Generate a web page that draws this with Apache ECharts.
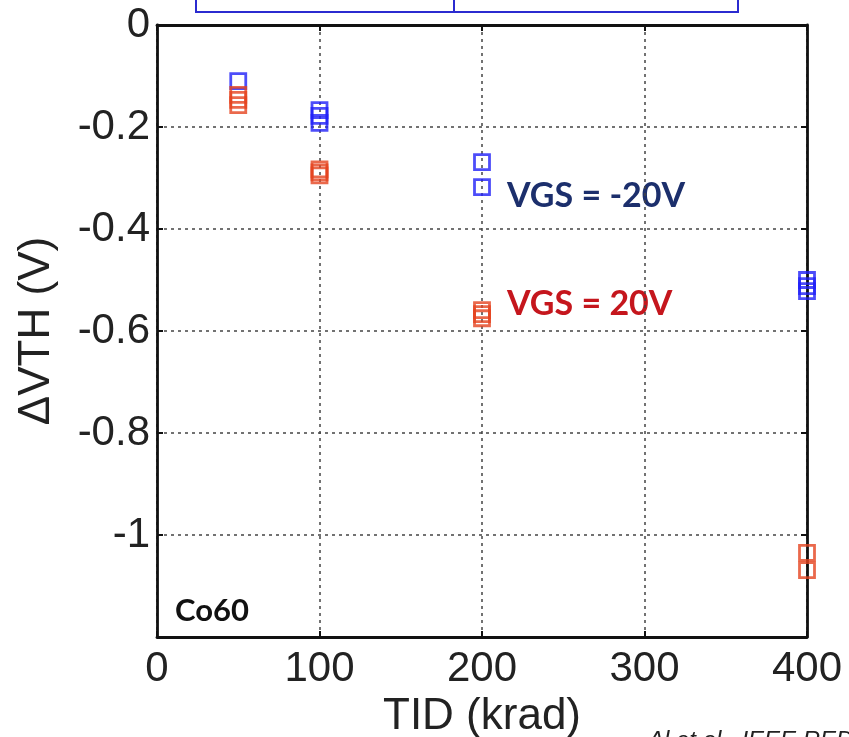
<!DOCTYPE html>
<html>
<head>
<meta charset="utf-8">
<script src="https://cdn.jsdelivr.net/npm/echarts@6/dist/echarts.min.js"></script>
<style>html,body{margin:0;padding:0;background:#fff;}#c{width:849px;height:737px;}</style>
</head>
<body>
<div id="c"></div>
<script>
// Data
var xTicks = [0, 100, 200, 300, 400];
var yTicks = [0, -0.2, -0.4, -0.6, -0.8, -1];
var tidBlue  = [50, 100, 100, 100, 200, 200, 400, 400, 400];
var dvthBlue = [-0.11, -0.167, -0.178, -0.192, -0.269, -0.318, -0.500, -0.512, -0.522];
var tidRed   = [50, 50, 50, 100, 100, 100, 200, 200, 200, 400, 400];
var dvthRed  = [-0.137, -0.147, -0.157, -0.283, -0.289, -0.295, -0.559, -0.567, -0.575, -1.035, -1.069];
var labelBlue = 'VGS = -20V';
var labelRed = 'VGS = 20V';

function pairs(xs, ys) { return xs.map(function (x, i) { return [x, ys[i]]; }); }

var chart = echarts.init(document.getElementById('c'), null, {renderer: 'canvas'});
var font = '"Liberation Sans", Arial, sans-serif';
var gridLine = {show: true, lineStyle: {color: '#444', type: [3, 4], width: 1.5}};
chart.setOption({
  animation: false,
  backgroundColor: '#fff',
  grid: {left: 157, right: 42, top: 25, bottom: 100, show: false, outerBoundsMode: 'none', containLabel: false},
  xAxis: [{
    type: 'value', min: 0, max: 400, interval: 100, position: 'bottom',
    name: 'TID (krad)', nameLocation: 'middle', nameGap: 56,
    nameTextStyle: {fontFamily: font, fontSize: 44, color: '#222'},
    axisLine: {show: true, onZero: false, lineStyle: {color: '#111', width: 2.8}},
    axisTick: {show: true, inside: true, length: 6, lineStyle: {color: '#111', width: 2}},
    axisLabel: {fontFamily: font, fontSize: 42, color: '#222', margin: 11,
      formatter: function (v) { return xTicks.indexOf(v) >= 0 ? String(v) : ''; }},
    splitLine: gridLine
  }, {
    type: 'value', min: 0, max: 400, interval: 100, position: 'top',
    axisLine: {show: true, onZero: false, lineStyle: {color: '#111', width: 2.8}},
    axisTick: {show: true, inside: true, length: 6, lineStyle: {color: '#111', width: 2}},
    axisLabel: {show: false}, splitLine: {show: false}
  }],
  yAxis: [{
    type: 'value', min: -1.2, max: 0, interval: 0.2, position: 'left',
    name: '\u0394VTH (V)', nameLocation: 'middle', nameGap: 98,
    nameTextStyle: {fontFamily: font, fontSize: 44, color: '#222'},
    axisLine: {show: true, onZero: false, lineStyle: {color: '#111', width: 2.8}},
    axisTick: {show: true, inside: true, length: 6, lineStyle: {color: '#111', width: 2}},
    axisLabel: {fontFamily: font, fontSize: 42, color: '#222', margin: 7,
      formatter: function (v) {
        var r = Math.round(v * 10) / 10;
        for (var i = 0; i < yTicks.length; i++) if (Math.abs(yTicks[i] - r) < 1e-9) return String(yTicks[i]);
        return '';
      }},
    splitLine: gridLine
  }, {
    type: 'value', min: -1.2, max: 0, interval: 0.2, position: 'right',
    axisLine: {show: true, onZero: false, lineStyle: {color: '#111', width: 2.8}},
    axisTick: {show: true, inside: true, length: 6, lineStyle: {color: '#111', width: 2}},
    axisLabel: {show: false}, splitLine: {show: false}
  }],
  series: [{
    type: 'scatter', name: labelBlue, data: pairs(tidBlue, dvthBlue),
    symbol: 'rect', symbolSize: 15, clip: false,
    itemStyle: {color: 'rgba(0,0,0,0)', borderColor: '#2020f8', borderWidth: 2.8}
  }, {
    type: 'scatter', name: labelRed, data: pairs(tidRed, dvthRed),
    symbol: 'rect', symbolSize: 15, clip: false,
    itemStyle: {color: 'rgba(0,0,0,0)', borderColor: '#e5441f', borderWidth: 2.8}
  }],
  graphic: [
    {type: 'rect', shape: {x: 196, y: -10, width: 542, height: 22},
     style: {fill: 'none', stroke: '#2b2bd0', lineWidth: 2}},
    {type: 'line', shape: {x1: 454, y1: -10, x2: 454, y2: 12},
     style: {stroke: '#2b2bd0', lineWidth: 2}},
    {type: 'text', x: 507, y: 196,
     style: {text: labelBlue, fill: '#1c2f6c', font: 'bold 34px Lato, "Open Sans", sans-serif', textVerticalAlign: 'middle'}},
    {type: 'text', x: 507, y: 304,
     style: {text: labelRed, fill: '#c5161d', font: 'bold 34px Lato, "Open Sans", sans-serif', textVerticalAlign: 'middle'}},
    {type: 'text', x: 175, y: 611,
     style: {text: 'Co60', fill: '#111', font: 'bold 31px Lato, "Open Sans", sans-serif', textVerticalAlign: 'middle'}},
    {type: 'text', x: 648, y: 729,
     style: {text: 'Al et al., IEEE REDW', fill: '#222', font: 'italic 24px "Liberation Sans", Arial, sans-serif', textVerticalAlign: 'top'}}
  ]
});
</script>
</body>
</html>
